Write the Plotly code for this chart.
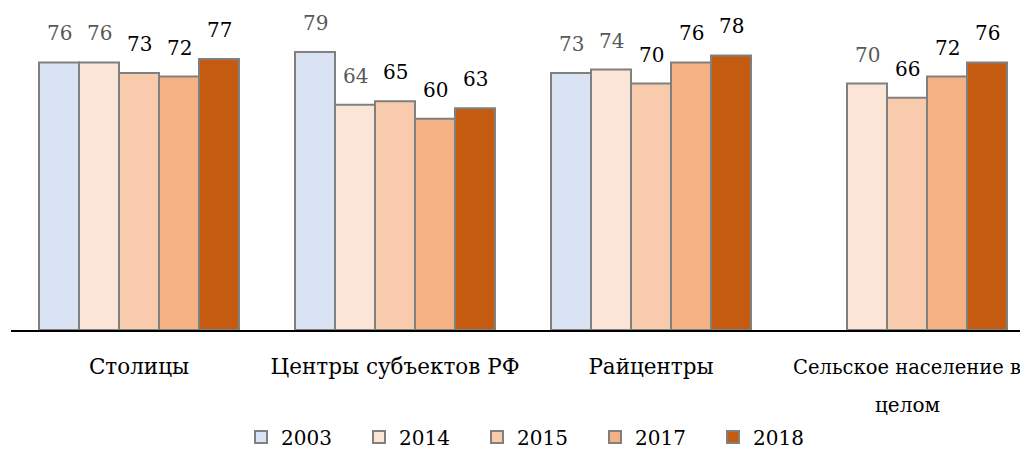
import plotly.graph_objects as go

categories = ["Столицы", "Центры субъектов РФ", "Райцентры", "Сельское население в целом"]
tick_text = ["Столицы", "Центры субъектов РФ", "Райцентры",
             "<span style='font-size:19.5px'>Сельское население в</span>"]
years = ["2003", "2014", "2015", "2017", "2018"]
values = {
    "2003": [76, 79, 73, None],
    "2014": [76, 64, 74, 70],
    "2015": [73, 65, 70, 66],
    "2017": [72, 60, 76, 72],
    "2018": [77, 63, 78, 76],
}
colors = ["#DAE3F3", "#FBE5D6", "#F8CBAD", "#F4B183", "#C55A11"]
label_colors = ["#595959", "#595959", "#000000", "#000000", "#000000"]

FONT = "DejaVu Serif"
OFF = 8  # page body margin
W, H = 1028 - OFF, 449 - OFF
ml, mr, mt = 11 - OFF, 0, 0
base = 330 - OFF
mb = H - base
plot_w = W - ml - mr
cat_px = 256.0
span = plot_w / cat_px
bar_px = 40.0
px_per_unit = 3.52

fig = go.Figure()
for i, yr in enumerate(years):
    fig.add_trace(go.Bar(
        name=yr, x=categories, y=values[yr],
        marker=dict(color=colors[i], line=dict(color="#808080", width=2)),
    ))

annotations = []
for i, yr in enumerate(years):
    for j, v in enumerate(values[yr]):
        if v is None:
            continue
        annotations.append(dict(
            x=categories[j], y=v, xref="x", yref="y",
            text=str(v), showarrow=False,
            xshift=(i - 2) * bar_px, yshift=29,
            font=dict(family=FONT, size=20, color=label_colors[i]),
            xanchor="center", yanchor="middle",
        ))
annotations.append(dict(
    x=categories[3], y=(base - (405 - OFF)) / base, xref="x", yref="paper",
    text="целом", showarrow=False, xanchor="center", yanchor="middle",
    font=dict(family=FONT, size=20, color="#000000"),
))

fig.update_layout(
    width=W, height=H,
    margin=dict(l=ml, r=mr, t=mt, b=mb, pad=0, autoexpand=False),
    paper_bgcolor="white", plot_bgcolor="white",
    barmode="group", bargap=56 / 256, bargroupgap=0,
    font=dict(family=FONT, size=20, color="#000000"),
    xaxis=dict(
        type="category", range=[-0.5, -0.5 + span],
        tickmode="array", tickvals=categories, ticktext=tick_text,
        showline=True, linecolor="#000000", linewidth=2,
        ticks="", showgrid=False, automargin=False,
        ticklabelstandoff=16,
        tickfont=dict(family=FONT, size=21.5, color="#000000"),
    ),
    yaxis=dict(range=[0, base / px_per_unit], visible=False, showgrid=False),
    legend=dict(
        orientation="h", x=(241 - OFF - ml) / plot_w, xanchor="left",
        y=(base - (437 - OFF)) / base, yanchor="middle",
        font=dict(family=FONT, size=20, color="#000000"),
        entrywidth=73, entrywidthmode="pixels",
        traceorder="normal",
    ),
    annotations=annotations,
)

fig.write_html("out.html")
